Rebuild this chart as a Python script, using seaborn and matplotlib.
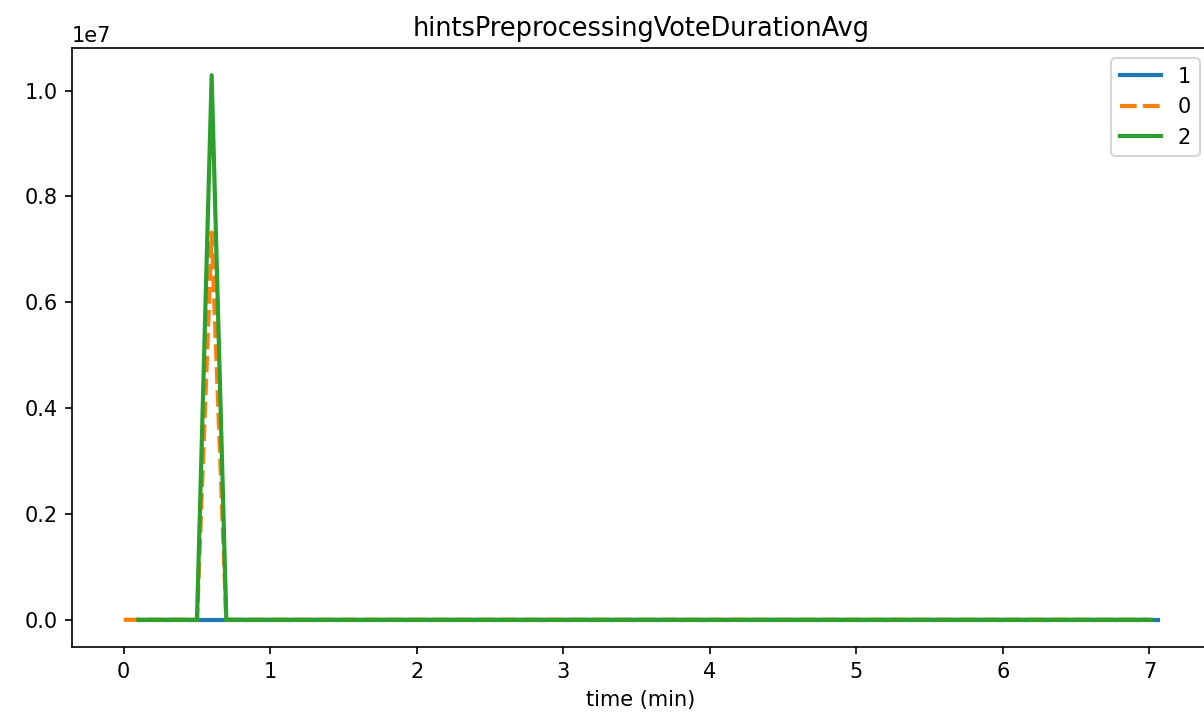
import pandas as pd
import numpy as np
import matplotlib
matplotlib.use("Agg")
import matplotlib.pyplot as plt
import seaborn as sns

# breakpoints of each node's series (value is 0 everywhere except the spike)
time_1 = [0.1, 0.5, 0.6, 0.7, 7.06]
vals_1 = [0, 0, 0, 0, 0]

time_0 = [0.0, 0.5, 0.6, 0.7, 7.0]
vals_0 = [0, 0, 7.32e6, 0, 0]

time_2 = [0.1, 0.5, 0.6, 0.7, 7.01]
vals_2 = [0, 0, 1.029e7, 0, 0]

node_order = ["1", "0", "2"]

# Build long dataframe (hue order = order of appearance)
df = pd.concat([
    pd.DataFrame({"time": time_1, "value": vals_1, "node": "1"}),
    pd.DataFrame({"time": time_0, "value": vals_0, "node": "0"}),
    pd.DataFrame({"time": time_2, "value": vals_2, "node": "2"}),
], ignore_index=True)

fig = plt.figure(figsize=(1204 / 150, 719 / 150), dpi=150)
ax = fig.add_axes([72 / 1204, (719 - 647) / 719, (1210 - 72) / 1204, (647 - 48) / 719])

sns.lineplot(data=df, x="time", y="value", hue="node", style="node",
             hue_order=node_order, style_order=node_order,
             dashes={"1": "", "0": (4, 1.5), "2": ""},
             linewidth=2, ax=ax)

ax.set_title("hintsPreprocessingVoteDurationAvg", fontsize=12.3)
ax.set_xlabel("time (min)")
ax.set_ylabel("")
handles, labels = ax.get_legend_handles_labels()
ax.legend(handles, labels, loc="upper right")

fig.savefig("out.png", dpi=150)
